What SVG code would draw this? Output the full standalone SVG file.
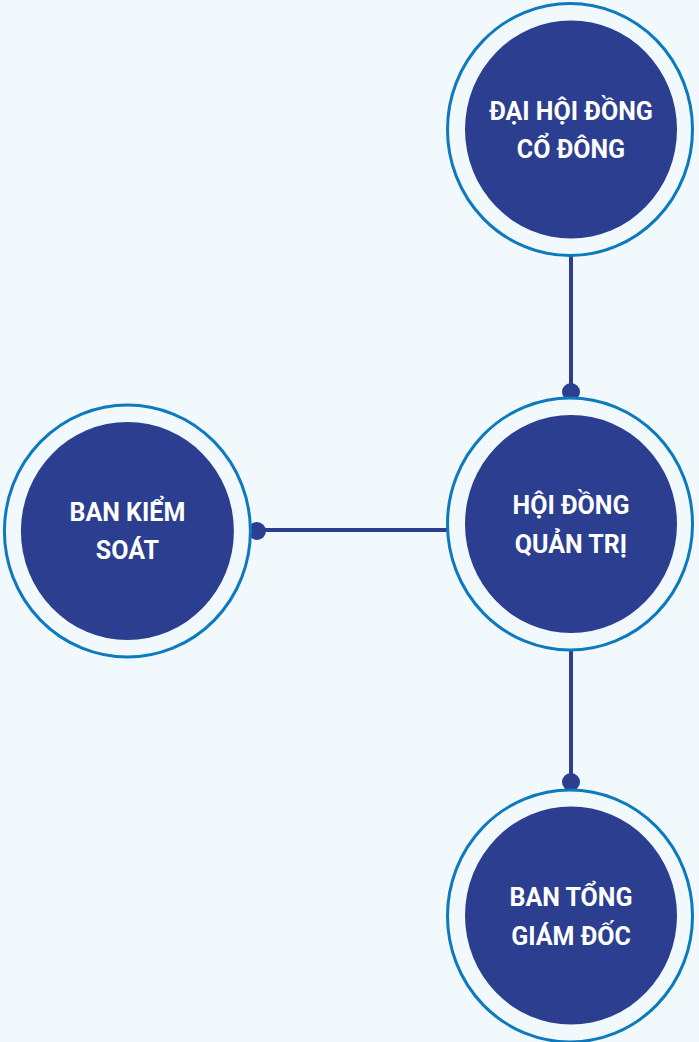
<svg xmlns="http://www.w3.org/2000/svg" width="699" height="1042" viewBox="0 0 699 1042">
<style>
.ring{fill:#f2f9fc;stroke:#0d79bf;stroke-width:3}
.core{fill:#2b3e90}
.lbl{font-family:Roboto,"Liberation Sans",sans-serif;font-weight:700;font-size:25px;fill:#ffffff;text-anchor:middle}
.ln{stroke:#2b3e90;stroke-width:4;fill:none}
.dot{fill:#2b3e90}
</style>
<rect width="699" height="1042" fill="#f2f9fc"/>
<g id="connectors">
<line class="ln" x1="571" y1="256" x2="571" y2="392"/>
<circle class="dot" cx="571" cy="392" r="9"/>
<line class="ln" x1="571" y1="650" x2="571" y2="782"/>
<circle class="dot" cx="571" cy="782" r="9"/>
<line class="ln" x1="257" y1="530" x2="447" y2="530"/>
<circle class="dot" cx="257" cy="531" r="9"/>
</g>
<g id="dai-hoi-dong-co-dong">
<ellipse class="ring" cx="570" cy="129.5" rx="122.5" ry="126"/>
<ellipse class="core" cx="571" cy="129.5" rx="106" ry="109"/>
<text class="lbl" x="571" y="119.5">ĐẠI HỘI ĐỒNG</text>
<text class="lbl" x="571" y="158">CỔ ĐÔNG</text>
</g>
<g id="hoi-dong-quan-tri">
<ellipse class="ring" cx="570" cy="524" rx="122.5" ry="126"/>
<ellipse class="core" cx="571" cy="524" rx="106" ry="109"/>
<text class="lbl" x="571" y="514">HỘI ĐỒNG</text>
<text class="lbl" x="571" y="552.5">QUẢN TRỊ</text>
</g>
<g id="ban-kiem-soat">
<ellipse class="ring" cx="127.4" cy="531" rx="123" ry="126"/>
<ellipse class="core" cx="127.4" cy="531" rx="106.5" ry="109"/>
<text class="lbl" x="127.4" y="521">BAN KIỂM</text>
<text class="lbl" x="127.4" y="559">SOÁT</text>
</g>
<g id="ban-tong-giam-doc">
<ellipse class="ring" cx="570" cy="916" rx="122.5" ry="126"/>
<ellipse class="core" cx="571" cy="915.5" rx="106" ry="109"/>
<text class="lbl" x="571" y="906">BAN TỔNG</text>
<text class="lbl" x="571" y="944.5">GIÁM ĐỐC</text>
</g>
</svg>
